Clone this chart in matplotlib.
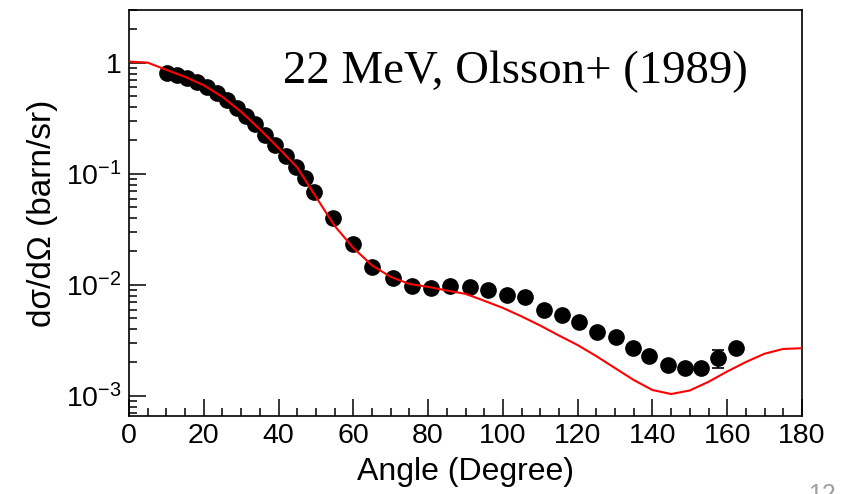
import matplotlib
matplotlib.use("Agg")
import matplotlib.pyplot as plt
from matplotlib.ticker import FixedLocator, LogLocator, NullFormatter, MultipleLocator

# ---- data ----
data_angle = [10.2, 12.8, 15.5, 18.2, 20.8, 23.5, 26.2, 28.9, 31.3, 33.8, 36.4, 39.1,
              42.0, 44.7, 47.2, 49.6, 54.5, 59.9, 65.0, 70.5, 75.6, 80.9, 85.9, 91.1,
              96.1, 101.1, 105.9, 111.0, 115.9, 120.4, 125.2, 130.2, 134.7, 139.1,
              144.1, 148.6, 152.9, 157.6, 162.3]
data_xs = [0.813, 0.780, 0.733, 0.674, 0.608, 0.537, 0.464, 0.393, 0.333, 0.282, 0.225,
           0.182, 0.145, 0.116, 0.092, 0.069, 0.040, 0.0233, 0.0146, 0.0115, 0.0098,
           0.0093, 0.0098, 0.0095, 0.0090, 0.0081, 0.0077, 0.0060, 0.0054, 0.0046,
           0.00375, 0.00342, 0.00269, 0.00231, 0.00188, 0.00178, 0.00178, 0.00219,
           0.00269]
data_err = [0.0] * 37 + [0.0004, 0.0]

calc_angle = [0, 5, 10, 15, 20, 25, 30, 35, 40, 45, 50, 55, 60, 65, 70, 75, 80, 85, 90,
              95, 100, 105, 110, 115, 120, 125, 130, 135, 140, 145, 150, 155, 160, 165,
              170, 175, 180]
calc_xs = [1.027, 1.004, 0.865, 0.748, 0.628, 0.494, 0.362, 0.252, 0.171, 0.114, 0.062,
           0.034, 0.0215, 0.0150, 0.0118, 0.0102, 0.0096, 0.0089, 0.0083, 0.0072, 0.0062,
           0.0052, 0.0043, 0.0035, 0.00287, 0.00228, 0.00178, 0.00139, 0.00113, 0.00104,
           0.00112, 0.00134, 0.00166, 0.00202, 0.00240, 0.00265, 0.00269]

x_ticks = [0, 20, 40, 60, 80, 100, 120, 140, 160, 180]
y_ticks = [1e-3, 1e-2, 1e-1, 1]
y_ticklabels = [r"$\mathregular{10^{-3}}$", r"$\mathregular{10^{-2}}$",
                r"$\mathregular{10^{-1}}$", "1"]

plt.rcParams["font.family"] = ["Liberation Sans", "DejaVu Sans"]
plt.rcParams["mathtext.fontset"] = "custom"
plt.rcParams["mathtext.rm"] = "Liberation Sans"

fig = plt.figure(figsize=(8.46, 4.94), dpi=100)
ax = fig.add_axes([0.1525, 0.158, 0.7955, 0.822])

ax.plot(calc_angle, calc_xs, color="red", lw=1.5, zorder=3)
ax.errorbar(data_angle, data_xs, yerr=data_err, fmt="o", color="black", ms=11,
            capsize=4, elinewidth=1.2, capthick=1.2, zorder=2)

ax.set_yscale("log")
ax.set_xlim(0, 180)
ax.set_ylim(6.6e-4, 3.0)

ax.xaxis.set_major_locator(FixedLocator(x_ticks))
ax.xaxis.set_minor_locator(MultipleLocator(5))
ax.set_xticklabels([str(t) for t in x_ticks])
ax.yaxis.set_major_locator(FixedLocator(y_ticks))
ax.set_yticklabels(y_ticklabels)
ax.yaxis.set_minor_locator(LogLocator(base=10, subs=range(2, 10), numticks=20))
ax.yaxis.set_minor_formatter(NullFormatter())

ax.tick_params(which="both", direction="in", top=False, right=False, labelsize=20.5,
               width=1.1, color="black")
ax.tick_params(which="major", length=12, pad=5)
ax.tick_params(which="minor", length=6)
for s in ax.spines.values():
    s.set_linewidth(1.2)

ax.set_xlabel("Angle (Degree)", fontsize=23, labelpad=6)
ax.set_ylabel("dσ/dΩ (barn/sr)", fontsize=24, labelpad=6)

ax.text(0.229, 0.820, "22 MeV, Olsson+ (1989)", transform=ax.transAxes,
        fontsize=33.7, family="Liberation Serif", ha="left", va="baseline")

fig.text(808 / 846, -0.016, "12", fontsize=18, color="#a0a0a0", ha="left", va="baseline")

fig.savefig("out.png", dpi=100)
